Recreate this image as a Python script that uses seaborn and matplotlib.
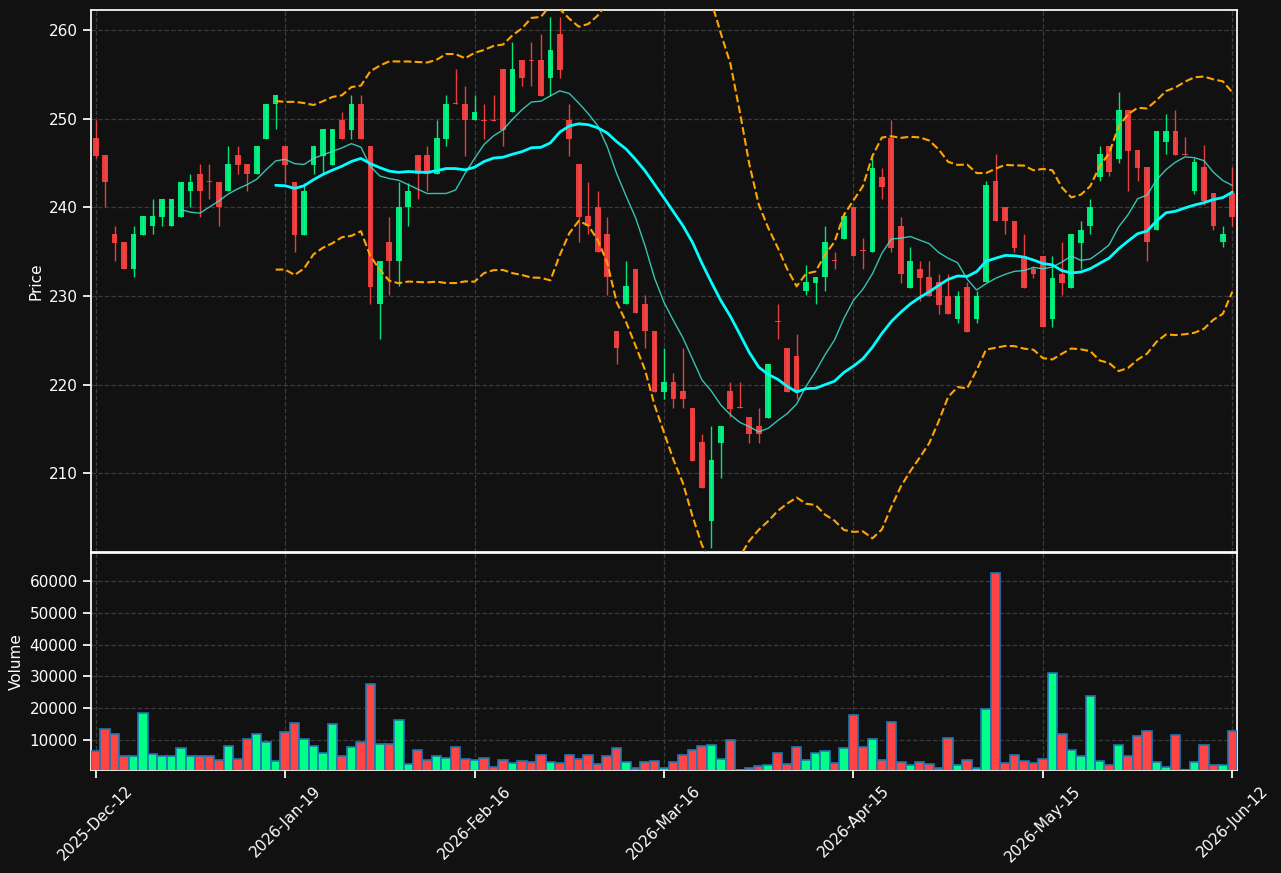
import numpy as np
import pandas as pd
import matplotlib
matplotlib.use("Agg")
import matplotlib.pyplot as plt
import seaborn as sns

# OHLC (one row per bar)
opens = [247.8, 245.9, 237.0, 236.1, 233.1, 236.9, 237.9, 238.9, 237.9, 238.9,
         241.8, 243.8, 242.95, 242.9, 241.8, 245.9, 244.9, 243.8, 247.7, 251.7,
         246.9, 242.9, 236.9, 244.8, 245.8, 244.8, 249.8, 248.7, 251.7, 246.9,
         229.1, 236.1, 234.0, 240.0, 245.9, 245.9, 243.8, 247.7, 251.75, 251.7,
         249.8, 249.85, 249.85, 255.6, 250.7, 256.6, 256.65, 256.6, 254.6, 259.6,
         249.8, 244.9, 239.0, 240.0, 237.0, 226.1, 229.1, 233.1, 229.1, 226.1,
         219.2, 220.3, 219.3, 217.4, 213.5, 204.6, 213.4, 219.3, 217.45, 216.4,
         215.4, 216.3, 227.2, 224.2, 223.3, 230.6, 231.5, 232.1, 234.05, 236.4,
         240.0, 235.15, 235.0, 243.4, 247.8, 237.9, 230.9, 233.0, 232.1, 231.6,
         230.0, 227.4, 231.0, 227.4, 231.6, 243.0, 240.0, 238.5, 234.5, 233.0,
         234.5, 227.4, 232.5, 230.9, 236.0, 237.9, 243.4, 246.9, 245.4, 251.0,
         246.5, 244.5, 237.5, 247.4, 248.6, 246.05, 241.9, 244.5, 241.6, 236.1,
         241.6]
highs = [249.8, 245.9, 237.9, 236.1, 237.9, 239.0, 240.9, 240.9, 240.9, 242.9,
         243.8, 244.9, 244.9, 242.9, 246.9, 246.9, 244.9, 246.9, 251.7, 252.7,
         246.9, 242.9, 242.8, 246.9, 248.8, 248.8, 250.7, 252.7, 252.7, 246.9,
         234.0, 238.9, 242.9, 242.8, 245.9, 246.9, 249.8, 252.7, 255.6, 253.7,
         252.7, 251.7, 252.7, 255.6, 258.6, 256.6, 258.6, 259.5, 261.5, 261.5,
         251.7, 244.9, 242.9, 241.9, 238.9, 226.1, 234.0, 233.1, 230.1, 226.1,
         224.2, 221.3, 224.2, 217.4, 214.4, 215.4, 215.4, 220.3, 220.3, 216.4,
         217.4, 222.4, 229.1, 224.2, 225.7, 233.5, 232.1, 237.9, 235.0, 239.5,
         240.0, 236.5, 245.8, 244.4, 249.8, 238.9, 235.5, 234.0, 234.0, 232.5,
         232.5, 230.6, 231.6, 230.6, 243.0, 246.0, 240.0, 238.5, 237.0, 233.4,
         234.5, 234.5, 236.1, 237.0, 238.5, 240.9, 246.9, 246.9, 253.0, 251.0,
         246.5, 244.5, 248.6, 250.5, 251.0, 247.9, 245.6, 247.0, 241.6, 237.9,
         244.5]
lows = [245.6, 240.0, 234.0, 233.0, 232.1, 236.9, 237.0, 237.9, 237.9, 238.9,
        240.0, 238.9, 240.9, 237.9, 241.8, 243.8, 241.8, 243.8, 247.7, 248.8,
        242.8, 235.0, 236.9, 243.8, 243.8, 244.8, 247.7, 247.7, 247.7, 229.1,
        225.2, 230.1, 231.1, 237.9, 240.9, 241.8, 243.8, 246.9, 251.65, 245.8,
        249.8, 247.7, 249.75, 246.9, 250.7, 253.7, 253.7, 252.6, 252.6, 254.6,
        245.8, 236.1, 237.0, 235.0, 230.1, 222.3, 229.1, 228.1, 224.2, 219.2,
        218.4, 217.4, 217.4, 211.4, 208.4, 201.6, 209.5, 216.4, 217.35, 213.4,
        213.4, 216.3, 225.2, 219.2, 218.4, 230.1, 229.1, 230.6, 233.0, 236.4,
        234.5, 233.0, 235.0, 240.9, 235.0, 231.5, 230.9, 229.5, 230.0, 228.0,
        228.0, 227.0, 226.0, 227.0, 231.6, 238.5, 237.0, 235.0, 230.9, 232.0,
        226.5, 226.5, 230.1, 230.9, 233.0, 237.0, 243.0, 243.5, 245.0, 241.9,
        243.0, 234.0, 237.5, 246.0, 245.9, 245.9, 241.5, 240.3, 237.5, 235.5,
        237.9]
closes = [245.8, 242.9, 236.0, 233.1, 237.0, 239.0, 239.0, 240.9, 240.9, 242.9,
          242.9, 241.8, 242.85, 240.0, 244.9, 244.8, 243.8, 246.9, 251.7, 252.7,
          244.8, 236.9, 241.9, 246.9, 248.8, 248.8, 247.7, 251.7, 247.7, 231.0,
          234.0, 234.0, 240.0, 241.9, 243.8, 243.8, 247.8, 251.7, 251.65, 249.8,
          250.7, 249.75, 249.75, 248.7, 255.6, 254.6, 256.55, 252.6, 257.7, 255.5,
          247.7, 238.9, 237.9, 235.0, 232.1, 224.2, 231.1, 228.1, 226.1, 219.2,
          220.3, 218.4, 218.4, 211.4, 208.4, 211.5, 215.4, 217.3, 217.35, 214.4,
          214.4, 222.4, 227.1, 219.2, 219.2, 231.6, 232.1, 236.1, 233.95, 239.0,
          234.5, 235.05, 244.4, 242.3, 235.4, 232.5, 234.0, 232.0, 230.0, 229.0,
          228.0, 230.0, 226.0, 230.0, 242.5, 238.5, 238.5, 235.4, 230.9, 232.5,
          226.5, 232.0, 231.5, 237.0, 237.5, 240.0, 246.0, 244.0, 251.0, 246.4,
          244.4, 236.1, 248.6, 248.6, 245.9, 245.95, 245.1, 240.7, 237.9, 237.0,
          238.9]
volumes = [6700, 13400, 11800, 4900, 4900, 18400, 5800, 5000, 5000, 7400,
           5000, 4900, 5100, 3900, 8300, 4200, 10500, 11800, 9300, 3500,
           12700, 15300, 10500, 8000, 6100, 15000, 5100, 7700, 9300, 27600,
           8900, 8900, 16200, 2600, 7000, 3900, 5100, 4500, 7700, 4200,
           3900, 4500, 1600, 3900, 2900, 3500, 3200, 5400, 3200, 2900,
           5400, 4200, 5400, 2600, 4900, 7400, 3200, 1200, 3200, 3500,
           1200, 3200, 5400, 7000, 8000, 8600, 4200, 9900, 700, 1200,
           2000, 2300, 6100, 2600, 7700, 3900, 6100, 6700, 2900, 7400,
           17800, 7700, 10500, 3900, 15600, 3200, 2300, 3200, 2600, 1300,
           10800, 2300, 3900, 1300, 19700, 62500, 2900, 5400, 3500, 2900,
           4200, 31100, 11800, 7000, 5100, 23800, 3500, 2300, 8600, 5100,
           11200, 13000, 3200, 1600, 11500, 700, 3200, 8600, 2300, 2300,
           13000]
tick_labels = ["2025-Dec-12", "2026-Jan-19", "2026-Feb-16", "2026-Mar-16",
               "2026-Apr-15", "2026-May-15", "2026-Jun-12"]

df = pd.DataFrame({"open": opens, "high": highs, "low": lows,
                   "close": closes, "volume": volumes})
df["idx"] = np.arange(len(df))
df["dir"] = np.where(df["close"] >= df["open"], "up", "down")
df["sma10"] = df["close"].rolling(10).mean()
df["sma20"] = df["close"].rolling(20).mean()
std20 = df["close"].rolling(20).std()
df["upper"] = df["sma20"] + 2 * std20
df["lower"] = df["sma20"] - 2 * std20

UP = "#00ff88"
DOWN = "#ff4444"
BG = "#111111"

sns.set_theme(style="dark", rc={
    "axes.facecolor": BG, "figure.facecolor": BG,
    "axes.edgecolor": "white", "axes.labelcolor": "white",
    "xtick.color": "white", "ytick.color": "white",
    "text.color": "white", "grid.color": "#3a3a3a",
    "grid.linestyle": "--", "grid.linewidth": 0.9,
    "xtick.bottom": True, "ytick.left": True,
})

fig = plt.figure(figsize=(12.81, 8.73), dpi=100)
ax = fig.add_axes([0.071, 0.3677, 0.8947, 0.6208])
axv = fig.add_axes([0.071, 0.118, 0.8947, 0.2487], sharex=ax)

# candles
colors = np.where(df["dir"] == "up", UP, DOWN)
ax.vlines(df["idx"], df["low"], df["high"], color=colors, linewidth=1, alpha=0.9, zorder=3)
body_bottom = np.minimum(df["open"], df["close"])
body_h = np.abs(df["close"] - df["open"]).clip(lower=0.1)
ax.bar(df["idx"], body_h, bottom=body_bottom, width=0.6, color=colors,
       alpha=0.9, linewidth=0, zorder=4)

# indicators
sns.lineplot(data=df, x="idx", y="sma10", ax=ax, color="#40e0d0", linewidth=1,
             alpha=0.85, zorder=5)
sns.lineplot(data=df, x="idx", y="sma20", ax=ax, color="#00ffff", linewidth=2, zorder=5)
sns.lineplot(data=df, x="idx", y="upper", ax=ax, color="orange", linewidth=1.5,
             linestyle="--", zorder=5)
sns.lineplot(data=df, x="idx", y="lower", ax=ax, color="orange", linewidth=1.5,
             linestyle="--", zorder=5)

ax.set_ylim(201.15, 262.25)
ax.set_ylabel("Price", fontsize=11)
ax.set_xlabel("")
ax.grid(True, axis="both")
ax.tick_params(axis="x", labelbottom=False)
ax.tick_params(labelsize=11)

# volume
axv.bar(df["idx"], df["volume"], width=1.0, color=colors,
        edgecolor="#1f77b4", linewidth=1.2, zorder=3)
axv.set_ylim(min(volumes) * 0.9, max(volumes) * 1.1)
axv.set_ylabel("Volume", fontsize=11)
axv.grid(True, axis="both")
axv.tick_params(labelsize=11)

n = len(df)
axv.set_xlim(-0.5, n - 0.5)
axv.set_xticks(np.linspace(0, n - 1, len(tick_labels)))
axv.set_xticklabels(tick_labels, rotation=45, fontsize=11)

for a in (ax, axv):
    for s in a.spines.values():
        s.set_color("white")

fig.savefig("out.png", dpi=100, facecolor=BG)
